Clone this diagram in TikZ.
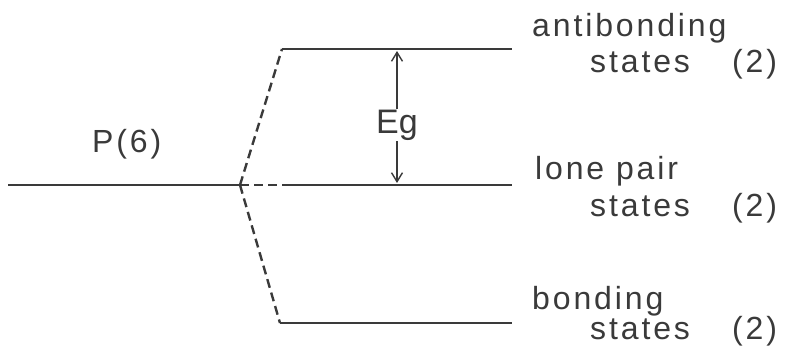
\documentclass[tikz,border=0pt]{standalone}
\usepackage{fontspec}
\setmainfont{Liberation Sans}
\usetikzlibrary{arrows.meta}
\definecolor{ink}{HTML}{3A3A3A}
\tikzset{
  level/.style={draw=ink, line width=2.8pt},
  branch/.style={draw=ink, line width=2.4pt, dash pattern=on 9pt off 5pt},
  lbl/.style={anchor=base west, inner sep=0pt, text=ink, font=\fontsize{32}{34}\selectfont\addfontfeature{LetterSpace=9}},
  gap/.style={draw=ink, line width=1.4pt, {Straight Barb[length=9pt,width=11pt,line width=1.4pt]}-{Straight Barb[length=9pt,width=11pt,line width=1.4pt]}}
}
\begin{document}
\begin{tikzpicture}[x=1pt,y=-1pt]
\path[use as bounding box] (0,0) rectangle (788,347);
% coordinates
\coordinate (L0) at (8,185);
\coordinate (Bp) at (240,185);
\coordinate (Atl) at (282,49);
\coordinate (Atr) at (512,49);
\coordinate (Lpl) at (282,185);
\coordinate (Lpr) at (512,185);
\coordinate (Bnl) at (280,323);
\coordinate (Bnr) at (512,323);
\coordinate (Ea) at (397,51);
\coordinate (Eb) at (397,183);
% levels
\draw[level] (L0) -- (Bp);
\draw[level] (Atl) -- (Atr);
\draw[level] (Lpl) -- (Lpr);
\draw[level] (Bnl) -- (Bnr);
% branches
\draw[branch] (Bp) -- (Atl);
\draw[branch] (Bp) -- (Lpl);
\draw[branch] (Bp) -- (Bnl);
% gap arrow
\draw[gap] (Ea) -- (Eb);
\node[fill=white, inner sep=1pt, text=ink, font=\fontsize{34}{36}\selectfont] (Eg) at (397,125) {Eg};
% labels
\node[lbl] (P6) at (92,153) {P(6)};
\node[lbl] (ab) at (532,37) {antibonding};
\node[lbl] (ab2) at (590,73) {states};
\node[lbl] (ab3) at (732,73) {(2)};
\node[lbl] (lp) at (535,180) {lone pair};
\node[lbl] (lp2) at (590,217) {states};
\node[lbl] (lp3) at (732,217) {(2)};
\node[lbl] (bo) at (532,310) {bonding};
\node[lbl] (bo2) at (590,340) {states};
\node[lbl] (bo3) at (732,340) {(2)};
\end{tikzpicture}
\end{document}
